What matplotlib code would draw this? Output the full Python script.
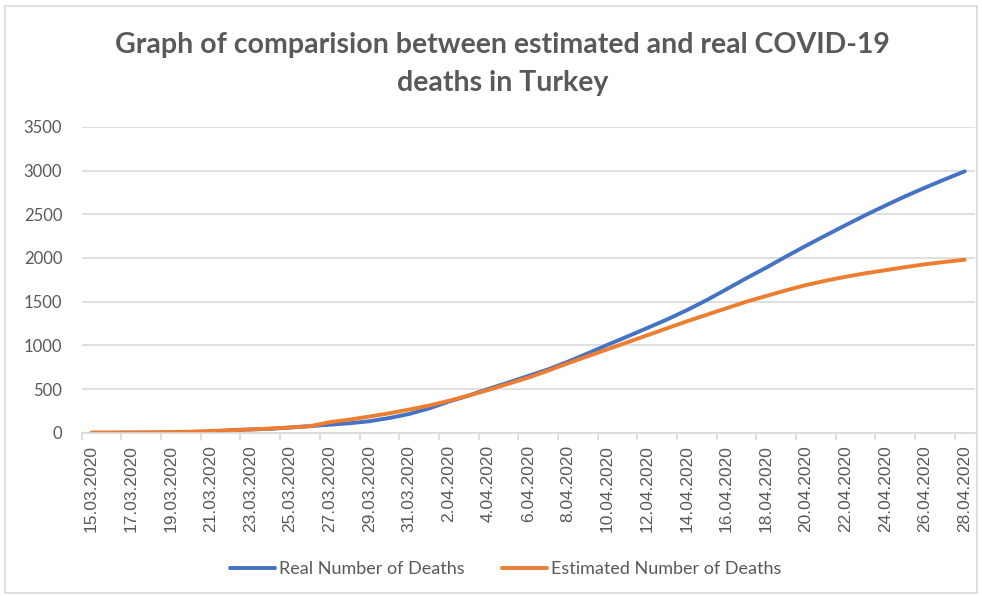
import matplotlib
matplotlib.use('Agg')
from matplotlib import pyplot as plt
from matplotlib.patches import Rectangle
import numpy as np

# dates 15.03.2020 .. 28.04.2020
dates = ['15.03.2020', '16.03.2020', '17.03.2020', '18.03.2020', '19.03.2020',
         '20.03.2020', '21.03.2020', '22.03.2020', '23.03.2020', '24.03.2020',
         '25.03.2020', '26.03.2020', '27.03.2020', '28.03.2020', '29.03.2020',
         '30.03.2020', '31.03.2020', '1.04.2020', '2.04.2020', '3.04.2020',
         '4.04.2020', '5.04.2020', '6.04.2020', '7.04.2020', '8.04.2020',
         '9.04.2020', '10.04.2020', '11.04.2020', '12.04.2020', '13.04.2020',
         '14.04.2020', '15.04.2020', '16.04.2020', '17.04.2020', '18.04.2020',
         '19.04.2020', '20.04.2020', '21.04.2020', '22.04.2020', '23.04.2020',
         '24.04.2020', '25.04.2020', '26.04.2020', '27.04.2020', '28.04.2020']

real_deaths = [0, 0, 1, 2, 3, 4, 9, 30, 37, 44,
               59, 75, 92, 108, 131, 168, 214, 277, 356, 425,
               501, 574, 649, 725, 812, 908, 1006, 1101, 1198, 1296,
               1403, 1518, 1643, 1769, 1890, 2017, 2140, 2259, 2376, 2491,
               2600, 2706, 2805, 2900, 2992]

estimated_deaths = [0, 1, 2, 4, 7, 12, 20, 28, 37, 48,
                    60, 75, 120, 150, 185, 222, 265, 310, 365, 425,
                    490, 560, 630, 710, 795, 875, 955, 1035, 1115, 1195,
                    1275, 1350, 1425, 1500, 1565, 1630, 1690, 1740, 1785, 1825,
                    1860, 1895, 1928, 1955, 1980]

TXT = '#595959'
GRID = '#d9d9d9'
plt.rcParams['font.family'] = ['Lato', 'DejaVu Sans']

fig = plt.figure(figsize=(9.82, 5.96), dpi=100)
fig.patches.append(Rectangle((0.005, 0.005), 0.99, 0.985, transform=fig.transFigure,
                             fill=False, edgecolor=GRID, linewidth=1.2))

ax = fig.add_axes([0.0832, 0.274, 0.9093, 0.513])
x = np.arange(len(dates))
ax.plot(x, real_deaths, color='#4472C4', linewidth=2.8, solid_capstyle='round',
        label='Real Number of Deaths')
ax.plot(x, estimated_deaths, color='#ED7D31', linewidth=2.8, solid_capstyle='round',
        label='Estimated Number of Deaths')

ax.set_xlim(-0.5, len(dates) - 0.5)
ax.set_ylim(0, 3500)
ax.set_yticks(range(0, 3501, 500))
ax.yaxis.grid(True, color=GRID, linewidth=1.2)
ax.set_axisbelow(True)
for s in ['top', 'right', 'left']:
    ax.spines[s].set_visible(False)
ax.spines['bottom'].set_color(GRID)
ax.spines['bottom'].set_linewidth(1.2)

ax.set_xticks(x[::2])
ax.set_xticklabels(dates[::2], rotation=90, fontsize=12.5, color=TXT,
                   family=['Liberation Sans', 'DejaVu Sans'])
ax.tick_params(axis='x', which='major', length=0, pad=9)
ax.set_xticks(np.arange(-0.5, len(dates), 2), minor=True)
ax.tick_params(axis='x', which='minor', length=5, color=GRID, width=1.2)
ax.tick_params(axis='y', length=0, labelsize=12, labelcolor=TXT, pad=14)

fig.text(0.512, 0.893, 'Graph of comparision between estimated and real COVID-19\ndeaths in Turkey',
         ha='center', va='center', fontsize=20.5, fontweight='bold', color=TXT,
         linespacing=1.55)

fig.legend(loc='center', bbox_to_anchor=(0.515, 0.045), ncol=2, frameon=False,
           fontsize=13, labelcolor=TXT, handlelength=2.5, columnspacing=2.1,
           handletextpad=0.2)

fig.savefig('out.png', dpi=100)
